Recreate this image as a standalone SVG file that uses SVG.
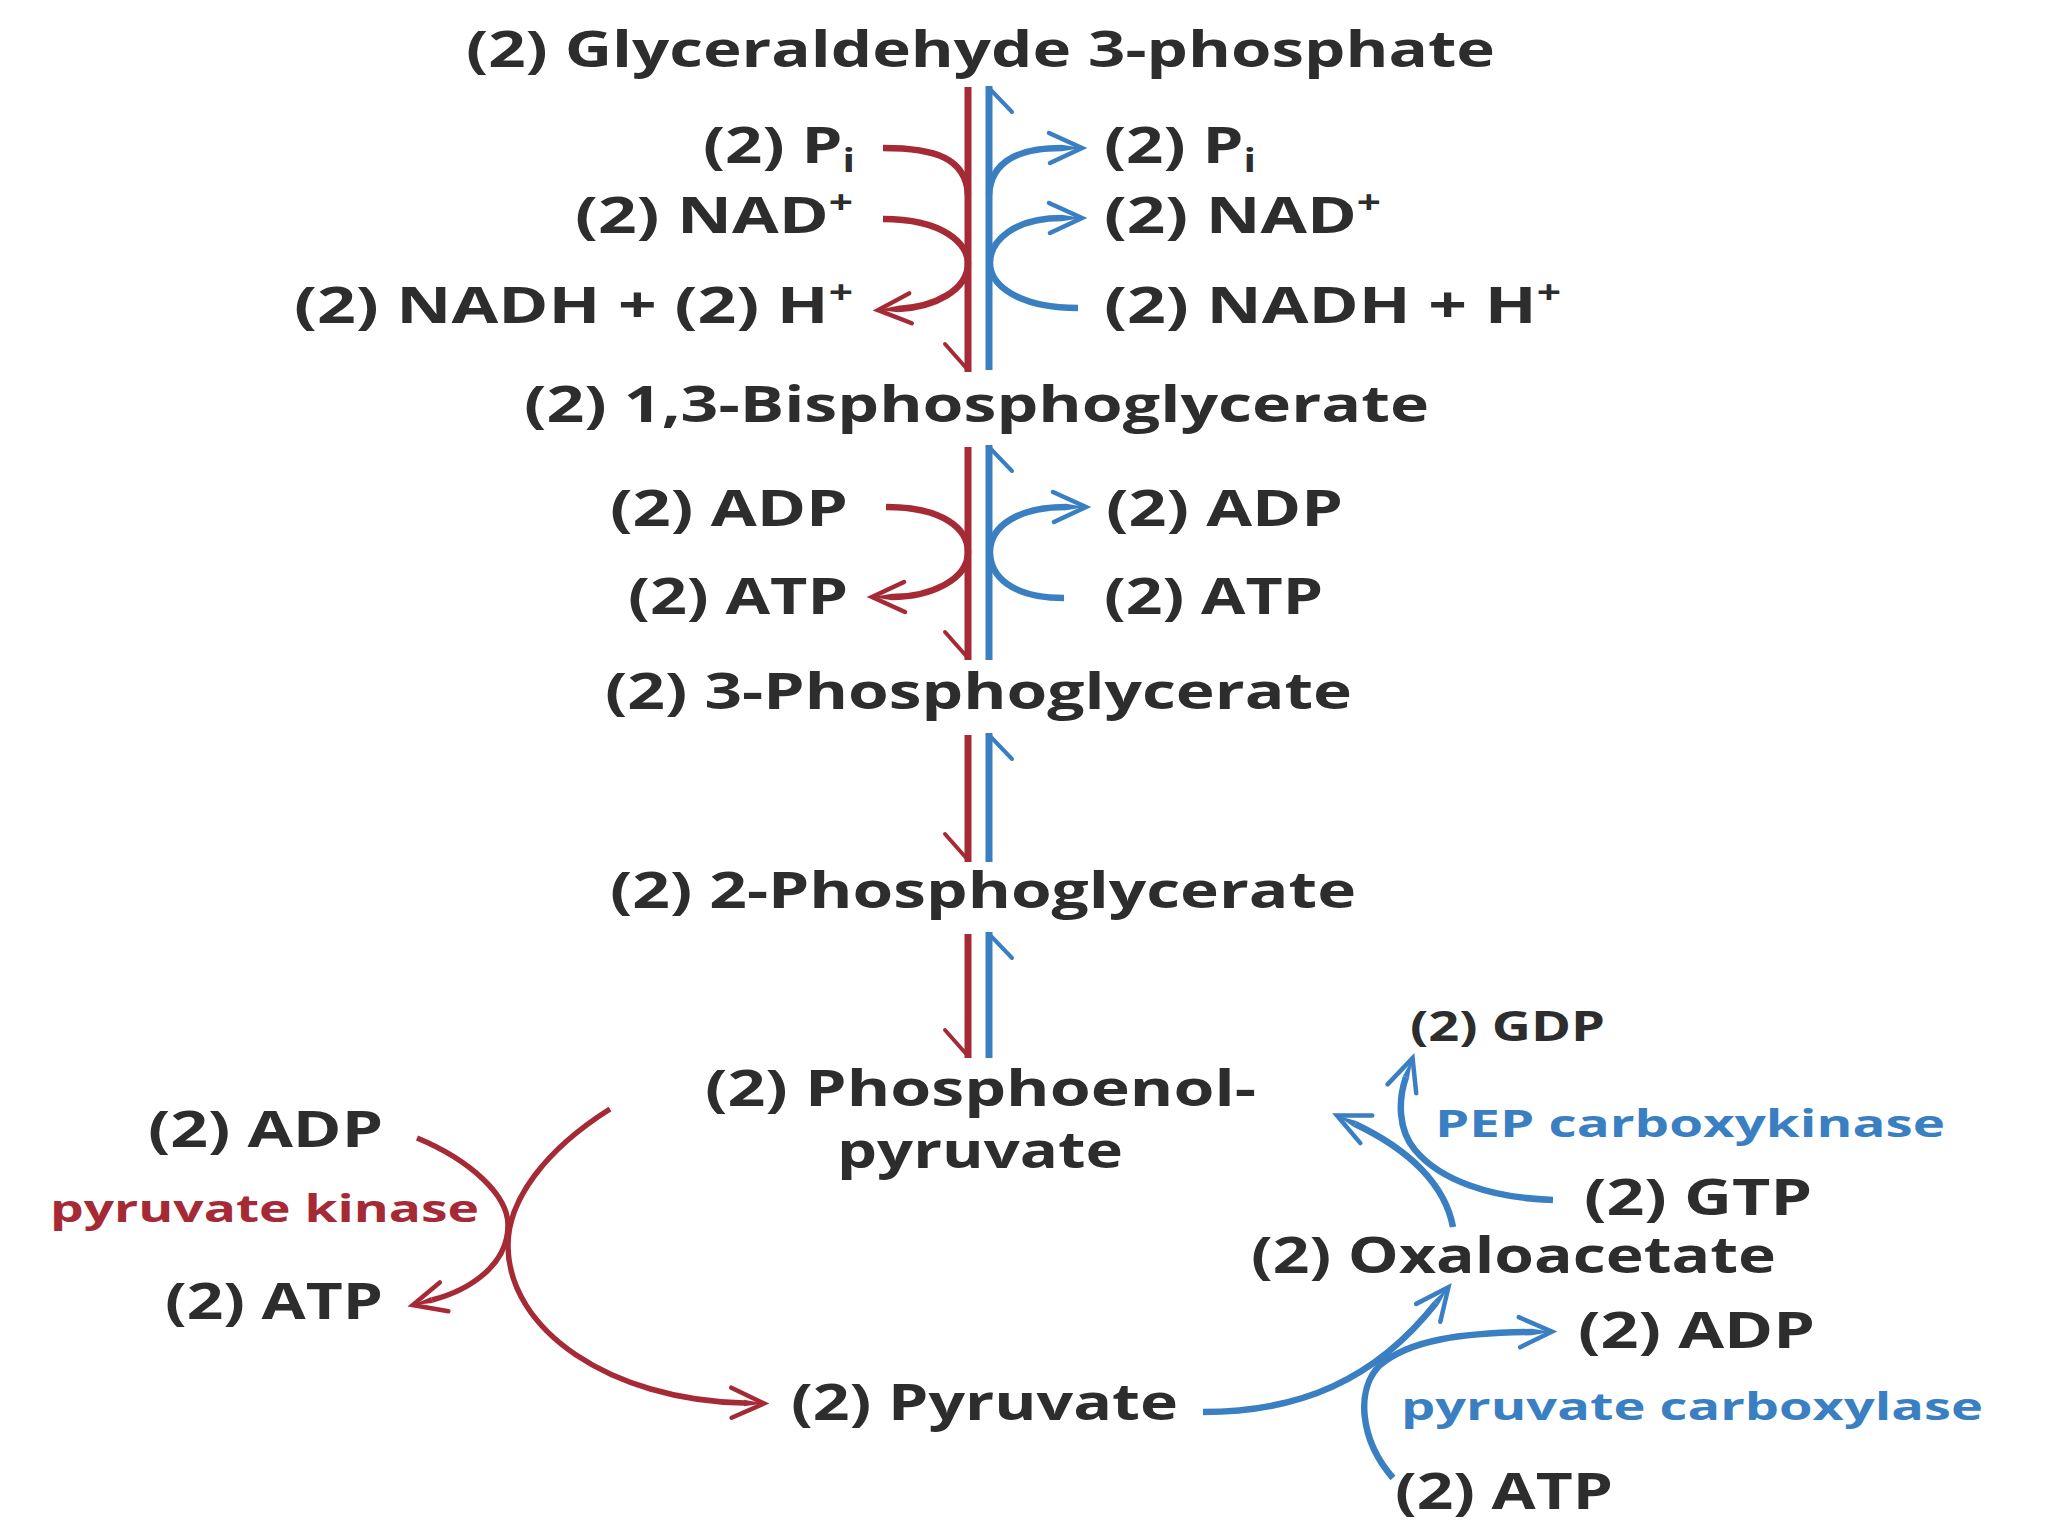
<svg xmlns="http://www.w3.org/2000/svg" width="2048" height="1536" viewBox="0 0 2048 1536">
<style>
.t{font-family:"Open Sans","Liberation Sans",sans-serif;font-weight:700;font-size:51px;fill:#2d2d2d}
.e{font-family:"Open Sans","Liberation Sans",sans-serif;font-weight:700;font-size:38px}
.sm{font-size:42px}
.red{fill:#a52a35}
.blue{fill:#3a7fc1}
.r{stroke:#a52a35;fill:none;stroke-width:6.5}
.b{stroke:#3a7fc1;fill:none;stroke-width:6.5}
.v{stroke-width:7}
.thin{stroke-width:5.5}
.barb{stroke-width:4;stroke-linecap:round}
.ra{marker-end:url(#arR)}
.ba{marker-end:url(#arB)}
</style>
<defs>
<marker id="arR" markerUnits="userSpaceOnUse" viewBox="-30 -30 60 60" markerWidth="60" markerHeight="60" refX="0" refY="0" orient="auto">
<polygon points="0,-3.2 20,0 0,3.2" fill="#a52a35"/>
<polyline points="-13,-15 20,0 -12,15" fill="none" stroke="#a52a35" stroke-width="4.5" stroke-linecap="round" stroke-linejoin="miter"/>
</marker>
<marker id="arB" markerUnits="userSpaceOnUse" viewBox="-30 -30 60 60" markerWidth="60" markerHeight="60" refX="0" refY="0" orient="auto">
<polygon points="0,-3.2 20,0 0,3.2" fill="#3a7fc1"/>
<polyline points="-13,-15 20,0 -12,15" fill="none" stroke="#3a7fc1" stroke-width="4.5" stroke-linecap="round" stroke-linejoin="miter"/>
</marker>
</defs>
<rect width="2048" height="1536" fill="#ffffff"/>

<g id="connectors">
<!-- segment 1 -->
<path class="r v" d="M968 87 V372"/>
<path class="r barb" d="M968 370 L945 344"/>
<path class="b v" d="M989 86 V370"/>
<path class="b barb" d="M989 88 L1012 112"/>
<path class="r" d="M883 148 C935 148 966 158 968 195"/>
<path class="r ra" d="M883 219 C945 219 968 245 968 263 C968 290 935 307 898 309"/>
<path class="b ba" d="M989 195 C991 160 1020 148 1062 148"/>
<path class="b ba" d="M1078 308 C1018 308 990 285 990 263 C990 240 1015 218 1062 218"/>
<!-- segment 2 -->
<path class="r v" d="M968 447 V660"/>
<path class="r barb" d="M968 658 L945 632"/>
<path class="b v" d="M989 445 V660"/>
<path class="b barb" d="M989 447 L1012 471"/>
<path class="r ra" d="M886 507 C945 507 968 530 968 552 C968 580 930 597 892 597"/>
<path class="b ba" d="M1064 598 C1010 598 990 575 990 552 C990 525 1020 507 1066 507"/>
<!-- segment 3 -->
<path class="r v" d="M968 735 V862"/>
<path class="r barb" d="M968 860 L945 834"/>
<path class="b v" d="M989 733 V862"/>
<path class="b barb" d="M989 735 L1012 759"/>
<!-- segment 4 -->
<path class="r v" d="M968 934 V1058"/>
<path class="r barb" d="M968 1056 L945 1030"/>
<path class="b v" d="M989 932 V1058"/>
<path class="b barb" d="M989 934 L1012 958"/>
<!-- pyruvate kinase -->
<path class="r thin ra" d="M610 1109 C545 1150 508 1200 508 1245 C508 1330 610 1400 744 1403"/>
<path class="r thin ra" d="M417 1138 C470 1160 508 1195 508 1225 C508 1265 470 1290 432 1300"/>
<!-- pyruvate carboxylase -->
<path class="b ba" d="M1203 1412 C1300 1412 1375 1380 1436 1303"/>
<path class="b ba" d="M1393 1478 C1360 1440 1355 1390 1380 1365 C1410 1340 1460 1333 1532 1332"/>
<!-- PEP carboxykinase -->
<path class="b ba" d="M1453 1227 C1445 1185 1410 1150 1355 1124"/>
<path class="b ba" d="M1553 1200 C1490 1198 1440 1180 1415 1150 C1398 1130 1398 1100 1406 1077"/>
</g>

<g id="n-g3p"><text class="t" x="466" y="67" textLength="1029" lengthAdjust="spacingAndGlyphs">(2) Glyceraldehyde 3-phosphate</text></g>
<g id="n-pi-left"><text class="t" x="703" y="163" textLength="152" lengthAdjust="spacingAndGlyphs">(2) P<tspan font-size="32" dy="9">i</tspan></text></g>
<g id="n-nad-left"><text class="t" x="575" y="233" textLength="278" lengthAdjust="spacingAndGlyphs">(2) NAD<tspan font-size="32" dy="-19">+</tspan></text></g>
<g id="n-nadh-left"><text class="t" x="294" y="323" textLength="559" lengthAdjust="spacingAndGlyphs">(2) NADH + (2) H<tspan font-size="32" dy="-19">+</tspan></text></g>
<g id="n-pi-right"><text class="t" x="1104" y="163" textLength="152" lengthAdjust="spacingAndGlyphs">(2) P<tspan font-size="32" dy="9">i</tspan></text></g>
<g id="n-nad-right"><text class="t" x="1104" y="233" textLength="277" lengthAdjust="spacingAndGlyphs">(2) NAD<tspan font-size="32" dy="-19">+</tspan></text></g>
<g id="n-nadh-right"><text class="t" x="1104" y="323" textLength="457" lengthAdjust="spacingAndGlyphs">(2) NADH + H<tspan font-size="32" dy="-19">+</tspan></text></g>
<g id="n-bpg"><text class="t" x="524" y="422" textLength="905" lengthAdjust="spacingAndGlyphs">(2) 1,3-Bisphosphoglycerate</text></g>
<g id="n-adp-left1"><text class="t" x="610" y="526" textLength="238" lengthAdjust="spacingAndGlyphs">(2) ADP</text></g>
<g id="n-atp-left1"><text class="t" x="628" y="614" textLength="220" lengthAdjust="spacingAndGlyphs">(2) ATP</text></g>
<g id="n-adp-right1"><text class="t" x="1106" y="526" textLength="237" lengthAdjust="spacingAndGlyphs">(2) ADP</text></g>
<g id="n-atp-right1"><text class="t" x="1104" y="614" textLength="219" lengthAdjust="spacingAndGlyphs">(2) ATP</text></g>
<g id="n-3pg"><text class="t" x="605" y="709" textLength="747" lengthAdjust="spacingAndGlyphs">(2) 3-Phosphoglycerate</text></g>
<g id="n-2pg"><text class="t" x="610" y="908" textLength="746" lengthAdjust="spacingAndGlyphs">(2) 2-Phosphoglycerate</text></g>
<g id="n-pep"><text class="t" x="705" y="1106" textLength="551" lengthAdjust="spacingAndGlyphs">(2) Phosphoenol-</text><text class="t" x="837" y="1168" textLength="286" lengthAdjust="spacingAndGlyphs">pyruvate</text></g>
<g id="n-adp-pk"><text class="t" x="148" y="1147" textLength="235" lengthAdjust="spacingAndGlyphs">(2) ADP</text></g>
<g id="n-pk"><text class="e red" x="50" y="1222" textLength="429" lengthAdjust="spacingAndGlyphs">pyruvate kinase</text></g>
<g id="n-atp-pk"><text class="t" x="165" y="1319" textLength="218" lengthAdjust="spacingAndGlyphs">(2) ATP</text></g>
<g id="n-pyruvate"><text class="t" x="791" y="1420" textLength="387" lengthAdjust="spacingAndGlyphs">(2) Pyruvate</text></g>
<g id="n-gdp"><text class="t sm" x="1410" y="1041" textLength="195" lengthAdjust="spacingAndGlyphs">(2) GDP</text></g>
<g id="n-pepck"><text class="e blue" x="1435" y="1137" textLength="510" lengthAdjust="spacingAndGlyphs">PEP carboxykinase</text></g>
<g id="n-gtp"><text class="t" x="1584" y="1215" textLength="228" lengthAdjust="spacingAndGlyphs">(2) GTP</text></g>
<g id="n-oaa"><text class="t" x="1251" y="1273" textLength="525" lengthAdjust="spacingAndGlyphs">(2) Oxaloacetate</text></g>
<g id="n-adp-pc"><text class="t" x="1578" y="1348" textLength="237" lengthAdjust="spacingAndGlyphs">(2) ADP</text></g>
<g id="n-pc"><text class="e blue" x="1401" y="1420" textLength="582" lengthAdjust="spacingAndGlyphs">pyruvate carboxylase</text></g>
<g id="n-atp-pc"><text class="t" x="1395" y="1509" textLength="218" lengthAdjust="spacingAndGlyphs">(2) ATP</text></g>
</svg>
